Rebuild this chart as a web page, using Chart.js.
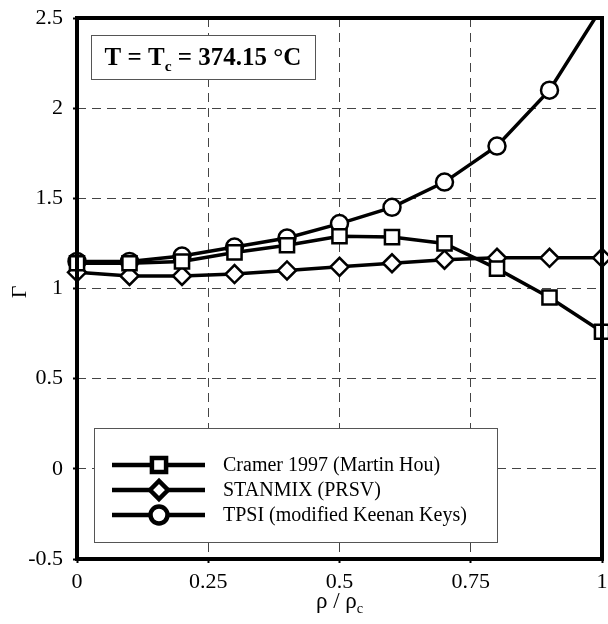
<!DOCTYPE html>
<html>
<head>
<meta charset="utf-8">
<script src="https://cdn.jsdelivr.net/npm/chart.js@4"></script>
<style>
  html, body { margin: 0; padding: 0; background: #fff; }
  #wrap { width: 608px; height: 624px; position: relative; }
</style>
</head>
<body>
<div id="wrap"><canvas id="gammaChart"></canvas></div>
<script>
// Data
const rhoRatio     = [0, 0.1, 0.2, 0.3, 0.4, 0.5, 0.6, 0.7, 0.8, 0.9, 1.0];
const cramerGamma  = [1.14, 1.14, 1.15, 1.20, 1.24, 1.29, 1.285, 1.25, 1.11, 0.95, 0.76];
const stanmixGamma = [1.09, 1.07, 1.07, 1.08, 1.10, 1.12, 1.14, 1.16, 1.17, 1.17, 1.17];
const tpsiGamma    = [1.15, 1.15, 1.18, 1.23, 1.28, 1.36, 1.45, 1.59, 1.79, 2.10, 2.56];

const seriesLabels = ['Cramer 1997 (Martin Hou)', 'STANMIX (PRSV)', 'TPSI (modified Keenan Keys)'];
const xTicks = [0, 0.25, 0.5, 0.75, 1];
const yTicks = [-0.5, 0, 0.5, 1, 1.5, 2, 2.5];

const SERIF = '"Liberation Serif", "Times New Roman", serif';

const toPoints = ys => rhoRatio.map((x, i) => ({ x, y: ys[i] }));

function makeSet(label, ys, style, radius) {
    return {
        label,
        data: toPoints(ys),
        borderColor: '#000',
        borderWidth: 3.5,
        backgroundColor: '#fff',
        pointStyle: style,
        pointRadius: radius,
        pointBorderWidth: 2.5,
        pointBackgroundColor: '#fff',
        pointBorderColor: '#000',
        tension: 0,
        // markers may spill over the side frames, but the top stays cut
        clip: { left: 14, right: 14, top: 0, bottom: 14 }
    };
}

// text with a subscript part, drawn left to right
function drawSubText(ctx, parts, x, y, size, weight, align) {
    const full = s => `${weight} ${s}px ${SERIF}`;
    let total = 0;
    parts.forEach(p => {
        ctx.font = full(p.sub ? size * 0.62 : size);
        total += ctx.measureText(p.t).width;
    });
    let cx = align === 'center' ? x - total / 2 : x;
    ctx.textAlign = 'left';
    ctx.textBaseline = 'alphabetic';
    parts.forEach(p => {
        ctx.font = full(p.sub ? size * 0.62 : size);
        ctx.fillText(p.t, cx, p.sub ? y + size * 0.22 : y);
        cx += ctx.measureText(p.t).width;
    });
}

const decorPlugin = {
    id: 'decor',
    afterDraw(chart) {
        const ctx = chart.ctx;
        const a = chart.chartArea;
        ctx.save();

        // annotation box
        ctx.fillStyle = '#fff';
        ctx.fillRect(91, 35, 224, 44);
        ctx.strokeStyle = '#555';
        ctx.lineWidth = 1;
        ctx.strokeRect(91.5, 35.5, 224, 44);
        ctx.fillStyle = '#000';
        drawSubText(ctx, [{ t: 'T = T' }, { t: 'c', sub: true }, { t: ' = 374.15 °C' }],
            203, 65, 25, 'bold', 'center');

        // legend box
        ctx.fillStyle = '#fff';
        ctx.fillRect(94, 428, 403, 114);
        ctx.strokeStyle = '#555';
        ctx.lineWidth = 1;
        ctx.strokeRect(94.5, 428.5, 403, 114);
        chart.data.datasets.forEach((ds, i) => {
            const yy = 465 + i * 25;
            ctx.strokeStyle = '#000';
            ctx.lineWidth = 4.5;
            ctx.beginPath();
            ctx.moveTo(112, yy);
            ctx.lineTo(205, yy);
            ctx.stroke();
            ctx.fillStyle = '#fff';
            ctx.strokeStyle = '#000';
            Chart.helpers.drawPoint(ctx, {
                pointStyle: ds.pointStyle,
                radius: ds.pointRadius,
                borderWidth: 2.5,
                rotation: 0
            }, 159, yy);
            ctx.fillStyle = '#000';
            ctx.font = `20px ${SERIF}`;
            ctx.textAlign = 'left';
            ctx.textBaseline = 'middle';
            ctx.fillText(ds.label, 223, yy + 1);
        });

        // thick frame
        ctx.strokeStyle = '#000';
        ctx.lineWidth = 4;
        ctx.strokeRect(a.left, a.top, a.right - a.left, a.bottom - a.top);

        // axis titles
        ctx.fillStyle = '#000';
        ctx.font = `22px ${SERIF}`;
        ctx.textAlign = 'center';
        ctx.textBaseline = 'middle';
        ctx.translate(20, 292);
        ctx.rotate(-Math.PI / 2);
        ctx.fillText('Γ', 0, 0);
        ctx.setTransform(1, 0, 0, 1, 0, 0);
        drawSubText(ctx, [{ t: 'ρ / ρ' }, { t: 'c', sub: true }], (a.left + a.right) / 2, 608, 23, 'normal', 'center');

        ctx.restore();
    }
};

const gridColor = c => {
    const s = c.scale;
    return (c.tick && (c.tick.value === s.min || c.tick.value === s.max)) ? 'rgba(0,0,0,0)' : '#444';
};

new Chart(document.getElementById('gammaChart'), {
    type: 'line',
    data: {
        datasets: [
            makeSet(seriesLabels[0], cramerGamma, 'rect', 10),
            makeSet(seriesLabels[1], stanmixGamma, 'rectRot', 9),
            makeSet(seriesLabels[2], tpsiGamma, 'circle', 8.5)
        ]
    },
    options: {
        responsive: true,
        maintainAspectRatio: false,
        animation: false,
        layout: { autoPadding: false, padding: { left: 0, right: 6, top: 18, bottom: 0 } },
        plugins: {
            legend: { display: false },
            tooltip: { enabled: false }
        },
        scales: {
            x: {
                type: 'linear',
                min: 0,
                max: 1,
                afterBuildTicks: s => { s.ticks = xTicks.map(v => ({ value: v })); },
                afterFit: s => { s.height = 65; s.paddingLeft = 0; s.paddingRight = 0; },
                ticks: {
                    color: '#000',
                    font: { family: SERIF, size: 22 },
                    padding: 6,
                    maxRotation: 0,
                    callback: v => String(v)
                },
                grid: { color: gridColor, lineWidth: 1, drawTicks: true, tickLength: 4, tickColor: '#000', tickWidth: 2 },
                border: { display: false, dash: [9, 6] }
            },
            y: {
                type: 'linear',
                min: -0.5,
                max: 2.5,
                afterBuildTicks: s => { s.ticks = yTicks.map(v => ({ value: v })); },
                afterFit: s => { s.width = 77; s.paddingTop = 0; s.paddingBottom = 0; },
                ticks: {
                    color: '#000',
                    font: { family: SERIF, size: 22 },
                    padding: 10,
                    callback: v => String(v)
                },
                grid: { color: gridColor, lineWidth: 1, drawTicks: true, tickLength: 4, tickColor: '#000', tickWidth: 2 },
                border: { display: false, dash: [9, 6] }
            }
        }
    },
    plugins: [decorPlugin]
});
</script>
</body>
</html>
